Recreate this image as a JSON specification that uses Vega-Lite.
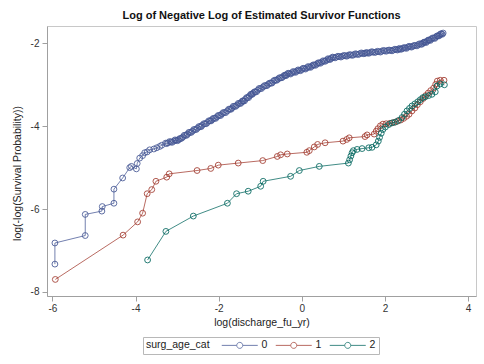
{
  "$schema": "https://vega.github.io/schema/vega-lite/v6.json",
  "autosize": {"type": "none"},
  "width": 429,
  "height": 270,
  "padding": {"left": 47, "top": 26, "right": 8, "bottom": 68},
  "background": "white",
  "title": {"text": "Log of Negative Log of Estimated Survivor Functions", "fontSize": 11, "fontWeight": "bold", "font": "Liberation Sans", "color": "#111", "anchor": "middle", "offset": 5},
  "config": {
    "font": "Liberation Sans",
    "view": {"stroke": "#c8c8c8"},
    "axis": {"grid": false, "domainColor": "#a0a0a0", "tickColor": "#a0a0a0", "tickSize": 5, "labelFontSize": 10, "labelColor": "#333", "titleFontSize": 10.5, "titleFontWeight": "normal", "titleColor": "#222", "labelFont": "Liberation Sans", "titleFont": "Liberation Sans"}
  },
  "data": {"values": [
    {"g":"0","x":-5.94,"y":-7.33},{"g":"0","x":-5.94,"y":-6.82},{"g":"0","x":-5.21,"y":-6.64},{"g":"0","x":-5.21,"y":-6.13},
    {"g":"0","x":-4.81,"y":-6.05},{"g":"0","x":-4.80,"y":-5.94},{"g":"0","x":-4.52,"y":-5.86},{"g":"0","x":-4.52,"y":-5.52},
    {"g":"0","x":-4.31,"y":-5.25},{"g":"0","x":-4.14,"y":-5.00},{"g":"0","x":-4.10,"y":-4.97},{"g":"0","x":-3.98,"y":-5.03},
    {"g":"0","x":-3.96,"y":-4.90},{"g":"0","x":-3.90,"y":-4.77},{"g":"0","x":-3.83,"y":-4.71},{"g":"0","x":-3.78,"y":-4.64},
    {"g":"0","x":-3.72,"y":-4.62},{"g":"0","x":-3.66,"y":-4.57},{"g":"0","x":-3.56,"y":-4.55},{"g":"0","x":-3.49,"y":-4.52},
    {"g":"0","x":-3.42,"y":-4.49},{"g":"0","x":-3.37,"y":-4.46},{"g":"0","x":-3.28,"y":-4.41},{"g":"0","x":-3.22,"y":-4.40},
    {"g":"0","x":-3.15,"y":-4.38},{"g":"0","x":-3.08,"y":-4.36},{"g":"0","x":-3.02,"y":-4.34},{"g":"0","x":-2.97,"y":-4.33},
    {"g":"0","x":-2.92,"y":-4.30},{"g":"0","x":-2.86,"y":-4.26},{"g":"0","x":-2.80,"y":-4.22},{"g":"0","x":-2.75,"y":-4.19},
    {"g":"0","x":-2.69,"y":-4.15},{"g":"0","x":-2.63,"y":-4.12},{"g":"0","x":-2.57,"y":-4.08},{"g":"0","x":-2.51,"y":-4.05},
    {"g":"0","x":-2.45,"y":-4.01},{"g":"0","x":-2.40,"y":-3.98},{"g":"0","x":-2.33,"y":-3.94},{"g":"0","x":-2.27,"y":-3.91},
    {"g":"0","x":-2.21,"y":-3.87},{"g":"0","x":-2.16,"y":-3.84},{"g":"0","x":-2.10,"y":-3.81},{"g":"0","x":-2.04,"y":-3.77},
    {"g":"0","x":-1.98,"y":-3.74},{"g":"0","x":-1.92,"y":-3.70},{"g":"0","x":-1.86,"y":-3.67},{"g":"0","x":-1.79,"y":-3.63},
    {"g":"0","x":-1.73,"y":-3.59},{"g":"0","x":-1.68,"y":-3.56},{"g":"0","x":-1.62,"y":-3.52},{"g":"0","x":-1.56,"y":-3.49},
    {"g":"0","x":-1.50,"y":-3.45},{"g":"0","x":-1.45,"y":-3.42},{"g":"0","x":-1.41,"y":-3.39},{"g":"0","x":-1.36,"y":-3.35},
    {"g":"0","x":-1.31,"y":-3.31},{"g":"0","x":-1.26,"y":-3.27},{"g":"0","x":-1.21,"y":-3.23},{"g":"0","x":-1.17,"y":-3.20},
    {"g":"0","x":-1.12,"y":-3.17},{"g":"0","x":-1.06,"y":-3.13},{"g":"0","x":-1.00,"y":-3.09},{"g":"0","x":-0.93,"y":-3.05},
    {"g":"0","x":-0.87,"y":-3.02},{"g":"0","x":-0.81,"y":-2.99},{"g":"0","x":-0.75,"y":-2.96},{"g":"0","x":-0.69,"y":-2.92},
    {"g":"0","x":-0.63,"y":-2.89},{"g":"0","x":-0.57,"y":-2.86},{"g":"0","x":-0.51,"y":-2.83},{"g":"0","x":-0.45,"y":-2.80},
    {"g":"0","x":-0.40,"y":-2.77},{"g":"0","x":-0.36,"y":-2.75},{"g":"0","x":-0.30,"y":-2.73},{"g":"0","x":-0.24,"y":-2.71},
    {"g":"0","x":-0.18,"y":-2.69},{"g":"0","x":-0.12,"y":-2.67},{"g":"0","x":-0.06,"y":-2.65},{"g":"0","x":0.00,"y":-2.63},
    {"g":"0","x":0.06,"y":-2.61},{"g":"0","x":0.12,"y":-2.59},{"g":"0","x":0.18,"y":-2.57},{"g":"0","x":0.24,"y":-2.55},
    {"g":"0","x":0.30,"y":-2.52},{"g":"0","x":0.36,"y":-2.50},{"g":"0","x":0.42,"y":-2.47},{"g":"0","x":0.48,"y":-2.45},
    {"g":"0","x":0.54,"y":-2.43},{"g":"0","x":0.60,"y":-2.40},{"g":"0","x":0.66,"y":-2.38},{"g":"0","x":0.71,"y":-2.36},
    {"g":"0","x":0.76,"y":-2.34},{"g":"0","x":0.83,"y":-2.33},{"g":"0","x":0.90,"y":-2.32},{"g":"0","x":0.97,"y":-2.31},
    {"g":"0","x":1.04,"y":-2.30},{"g":"0","x":1.11,"y":-2.29},{"g":"0","x":1.18,"y":-2.28},{"g":"0","x":1.25,"y":-2.27},
    {"g":"0","x":1.32,"y":-2.26},{"g":"0","x":1.39,"y":-2.25},{"g":"0","x":1.46,"y":-2.24},{"g":"0","x":1.52,"y":-2.24},
    {"g":"0","x":1.57,"y":-2.23},{"g":"0","x":1.64,"y":-2.22},{"g":"0","x":1.71,"y":-2.21},{"g":"0","x":1.78,"y":-2.21},
    {"g":"0","x":1.85,"y":-2.20},{"g":"0","x":1.92,"y":-2.19},{"g":"0","x":1.99,"y":-2.18},{"g":"0","x":2.06,"y":-2.17},
    {"g":"0","x":2.13,"y":-2.17},{"g":"0","x":2.20,"y":-2.16},{"g":"0","x":2.27,"y":-2.15},{"g":"0","x":2.33,"y":-2.14},
    {"g":"0","x":2.37,"y":-2.14},{"g":"0","x":2.43,"y":-2.12},{"g":"0","x":2.49,"y":-2.11},{"g":"0","x":2.55,"y":-2.09},
    {"g":"0","x":2.61,"y":-2.08},{"g":"0","x":2.67,"y":-2.07},{"g":"0","x":2.73,"y":-2.05},{"g":"0","x":2.80,"y":-2.03},
    {"g":"0","x":2.86,"y":-2.02},{"g":"0","x":2.91,"y":-1.99},{"g":"0","x":2.96,"y":-1.97},{"g":"0","x":3.01,"y":-1.95},
    {"g":"0","x":3.06,"y":-1.92},{"g":"0","x":3.11,"y":-1.90},{"g":"0","x":3.17,"y":-1.87},{"g":"0","x":3.22,"y":-1.85},
    {"g":"0","x":3.27,"y":-1.82},{"g":"0","x":3.32,"y":-1.79},{"g":"0","x":3.36,"y":-1.77},{"g":"0","x":3.40,"y":-1.75},
    {"g":"0","x":-3.25,"y":-4.42},{"g":"0","x":-3.18,"y":-4.37},{"g":"0","x":-3.12,"y":-4.39},{"g":"0","x":-3.05,"y":-4.33},
    {"g":"0","x":-2.99,"y":-4.35},{"g":"0","x":-2.94,"y":-4.30},{"g":"0","x":-2.89,"y":-4.29},{"g":"0","x":-2.83,"y":-4.22},
    {"g":"0","x":-2.77,"y":-4.22},{"g":"0","x":-2.72,"y":-4.15},{"g":"0","x":-2.66,"y":-4.15},{"g":"0","x":-2.60,"y":-4.08},
    {"g":"0","x":-2.54,"y":-4.08},{"g":"0","x":-2.48,"y":-4.01},{"g":"0","x":-2.42,"y":-4.01},{"g":"0","x":-2.36,"y":-3.94},
    {"g":"0","x":-2.30,"y":-3.94},{"g":"0","x":-2.24,"y":-3.87},{"g":"0","x":-2.18,"y":-3.87},{"g":"0","x":-2.13,"y":-3.81},
    {"g":"0","x":-2.07,"y":-3.81},{"g":"0","x":-2.01,"y":-3.74},{"g":"0","x":-1.95,"y":-3.74},{"g":"0","x":-1.89,"y":-3.67},
    {"g":"0","x":-1.83,"y":-3.67},{"g":"0","x":-1.76,"y":-3.59},{"g":"0","x":-1.70,"y":-3.59},{"g":"0","x":-1.65,"y":-3.52},
    {"g":"0","x":-1.59,"y":-3.52},{"g":"0","x":-1.53,"y":-3.45},{"g":"0","x":-1.47,"y":-3.45},{"g":"0","x":-1.43,"y":-3.39},
    {"g":"0","x":-1.38,"y":-3.39},{"g":"0","x":-1.33,"y":-3.31},{"g":"0","x":-1.28,"y":-3.31},{"g":"0","x":-1.23,"y":-3.23},
    {"g":"0","x":-1.19,"y":-3.23},{"g":"0","x":-1.14,"y":-3.17},{"g":"0","x":-1.09,"y":-3.17},{"g":"0","x":-1.03,"y":-3.09},
    {"g":"0","x":-0.97,"y":-3.09},{"g":"0","x":-0.90,"y":-3.02},{"g":"0","x":-0.84,"y":-3.02},{"g":"0","x":-0.78,"y":-2.96},
    {"g":"0","x":-0.72,"y":-2.96},{"g":"0","x":-0.66,"y":-2.89},{"g":"0","x":-0.60,"y":-2.89},{"g":"0","x":-0.54,"y":-2.83},
    {"g":"0","x":-0.48,"y":-2.83},{"g":"0","x":-0.42,"y":-2.77},{"g":"0","x":-0.38,"y":-2.78},{"g":"0","x":-0.33,"y":-2.72},
    {"g":"0","x":-0.27,"y":-2.74},{"g":"0","x":-0.21,"y":-2.68},{"g":"0","x":-0.15,"y":-2.70},{"g":"0","x":-0.09,"y":-2.64},
    {"g":"0","x":-0.03,"y":-2.66},{"g":"0","x":0.03,"y":-2.60},{"g":"0","x":0.09,"y":-2.62},{"g":"0","x":0.15,"y":-2.56},
    {"g":"0","x":0.21,"y":-2.58},{"g":"0","x":0.27,"y":-2.52},{"g":"0","x":0.33,"y":-2.53},{"g":"0","x":0.39,"y":-2.47},
    {"g":"0","x":0.45,"y":-2.48},{"g":"0","x":0.51,"y":-2.42},{"g":"0","x":0.57,"y":-2.43},{"g":"0","x":0.63,"y":-2.37},
    {"g":"0","x":0.68,"y":-2.39},{"g":"0","x":0.74,"y":-2.33},{"g":"0","x":0.80,"y":-2.35},{"g":"0","x":0.87,"y":-2.31},
    {"g":"0","x":0.94,"y":-2.33},{"g":"0","x":1.01,"y":-2.29},{"g":"0","x":1.08,"y":-2.31},{"g":"0","x":1.15,"y":-2.27},
    {"g":"0","x":1.22,"y":-2.29},{"g":"0","x":1.29,"y":-2.25},{"g":"0","x":1.36,"y":-2.27},{"g":"0","x":1.43,"y":-2.23},
    {"g":"0","x":1.49,"y":-2.25},{"g":"0","x":1.55,"y":-2.22},{"g":"0","x":1.61,"y":-2.24},{"g":"0","x":1.68,"y":-2.20},
    {"g":"0","x":1.75,"y":-2.22},{"g":"0","x":1.82,"y":-2.19},{"g":"0","x":1.89,"y":-2.21},{"g":"0","x":1.96,"y":-2.17},
    {"g":"0","x":2.03,"y":-2.19},{"g":"0","x":2.10,"y":-2.16},{"g":"0","x":2.17,"y":-2.18},{"g":"0","x":2.24,"y":-2.14},
    {"g":"0","x":2.30,"y":-2.16},{"g":"0","x":2.35,"y":-2.12},{"g":"0","x":2.40,"y":-2.14},{"g":"0","x":2.46,"y":-2.10},
    {"g":"0","x":2.52,"y":-2.12},{"g":"0","x":2.58,"y":-2.07},{"g":"0","x":2.64,"y":-2.09},{"g":"0","x":2.70,"y":-2.05},
    {"g":"0","x":2.77,"y":-2.06},{"g":"0","x":2.83,"y":-2.01},{"g":"0","x":2.89,"y":-2.02},{"g":"0","x":2.94,"y":-1.97},
    {"g":"0","x":2.99,"y":-1.98},{"g":"0","x":3.04,"y":-1.92},{"g":"0","x":3.09,"y":-1.93},{"g":"0","x":3.14,"y":-1.87},
    {"g":"0","x":3.20,"y":-1.88},{"g":"0","x":3.25,"y":-1.82},{"g":"0","x":3.30,"y":-1.82},{"g":"0","x":3.34,"y":-1.77},
    {"g":"0","x":3.38,"y":-1.78},

    {"g":"1","x":-5.93,"y":-7.70},{"g":"1","x":-4.30,"y":-6.63},{"g":"1","x":-3.95,"y":-6.31},{"g":"1","x":-3.83,"y":-6.10},
    {"g":"1","x":-3.72,"y":-5.63},{"g":"1","x":-3.61,"y":-5.53},{"g":"1","x":-3.51,"y":-5.33},{"g":"1","x":-3.25,"y":-5.23},
    {"g":"1","x":-3.19,"y":-5.15},{"g":"1","x":-2.52,"y":-5.07},{"g":"1","x":-2.19,"y":-5.02},{"g":"1","x":-2.01,"y":-4.94},
    {"g":"1","x":-1.53,"y":-4.89},{"g":"1","x":-0.94,"y":-4.83},{"g":"1","x":-0.59,"y":-4.73},{"g":"1","x":-0.51,"y":-4.69},
    {"g":"1","x":-0.35,"y":-4.67},{"g":"1","x":0.12,"y":-4.63},{"g":"1","x":0.18,"y":-4.59},{"g":"1","x":0.30,"y":-4.50},
    {"g":"1","x":0.38,"y":-4.44},{"g":"1","x":0.56,"y":-4.40},{"g":"1","x":0.99,"y":-4.36},{"g":"1","x":1.08,"y":-4.32},
    {"g":"1","x":1.14,"y":-4.28},{"g":"1","x":1.52,"y":-4.25},{"g":"1","x":1.57,"y":-4.21},{"g":"1","x":1.74,"y":-4.19},
    {"g":"1","x":1.79,"y":-4.12},{"g":"1","x":1.83,"y":-4.06},{"g":"1","x":1.89,"y":-3.99},{"g":"1","x":1.95,"y":-3.95},
    {"g":"1","x":2.03,"y":-3.94},{"g":"1","x":2.12,"y":-3.93},{"g":"1","x":2.21,"y":-3.91},{"g":"1","x":2.30,"y":-3.88},
    {"g":"1","x":2.38,"y":-3.85},{"g":"1","x":2.45,"y":-3.81},{"g":"1","x":2.52,"y":-3.76},{"g":"1","x":2.58,"y":-3.71},
    {"g":"1","x":2.65,"y":-3.63},{"g":"1","x":2.72,"y":-3.56},{"g":"1","x":2.78,"y":-3.48},{"g":"1","x":2.85,"y":-3.41},
    {"g":"1","x":2.92,"y":-3.33},{"g":"1","x":2.98,"y":-3.26},{"g":"1","x":3.04,"y":-3.20},{"g":"1","x":3.10,"y":-3.14},
    {"g":"1","x":3.17,"y":-3.08},{"g":"1","x":3.22,"y":-2.99},{"g":"1","x":3.26,"y":-2.91},{"g":"1","x":3.33,"y":-2.89},
    {"g":"1","x":3.42,"y":-2.89},

    {"g":"2","x":-3.71,"y":-7.23},{"g":"2","x":-3.27,"y":-6.54},{"g":"2","x":-2.61,"y":-6.17},{"g":"2","x":-1.79,"y":-5.86},
    {"g":"2","x":-1.57,"y":-5.63},{"g":"2","x":-1.29,"y":-5.57},{"g":"2","x":-0.99,"y":-5.45},{"g":"2","x":-0.93,"y":-5.33},
    {"g":"2","x":-0.27,"y":-5.21},{"g":"2","x":-0.06,"y":-5.07},{"g":"2","x":0.42,"y":-4.97},{"g":"2","x":1.12,"y":-4.89},
    {"g":"2","x":1.15,"y":-4.81},{"g":"2","x":1.18,"y":-4.72},{"g":"2","x":1.21,"y":-4.64},{"g":"2","x":1.24,"y":-4.59},
    {"g":"2","x":1.33,"y":-4.56},{"g":"2","x":1.45,"y":-4.54},{"g":"2","x":1.61,"y":-4.52},{"g":"2","x":1.69,"y":-4.51},
    {"g":"2","x":1.79,"y":-4.45},{"g":"2","x":1.84,"y":-4.36},{"g":"2","x":1.87,"y":-4.27},{"g":"2","x":1.91,"y":-4.17},
    {"g":"2","x":1.95,"y":-4.08},{"g":"2","x":2.01,"y":-4.02},{"g":"2","x":2.09,"y":-3.96},{"g":"2","x":2.17,"y":-3.92},
    {"g":"2","x":2.25,"y":-3.90},{"g":"2","x":2.33,"y":-3.86},{"g":"2","x":2.41,"y":-3.79},{"g":"2","x":2.47,"y":-3.71},
    {"g":"2","x":2.53,"y":-3.63},{"g":"2","x":2.59,"y":-3.57},{"g":"2","x":2.65,"y":-3.51},{"g":"2","x":2.72,"y":-3.46},
    {"g":"2","x":2.79,"y":-3.41},{"g":"2","x":2.85,"y":-3.36},{"g":"2","x":2.91,"y":-3.31},{"g":"2","x":2.97,"y":-3.29},
    {"g":"2","x":3.05,"y":-3.26},{"g":"2","x":3.13,"y":-3.23},{"g":"2","x":3.21,"y":-3.17},{"g":"2","x":3.25,"y":-3.03},
    {"g":"2","x":3.33,"y":-2.98},{"g":"2","x":3.43,"y":-3.00}
  ]},
  "encoding": {
    "x": {"field": "x", "type": "quantitative", "scale": {"domain": [-6.13, 4.19], "nice": false, "zero": false},
      "axis": {"title": "log(discharge_fu_yr)", "values": [-6, -4, -2, 0, 2, 4], "labelExpr": "'' + datum.value", "labelPadding": 2, "titlePadding": 4}},
    "y": {"field": "y", "type": "quantitative", "scale": {"domain": [-8.1, -1.58], "nice": false, "zero": false},
      "axis": {"title": "log(-log(Survival Probability))", "values": [-8, -6, -4, -2], "labelExpr": "'' + datum.value", "labelPadding": 3, "titlePadding": 8, "titleY": 147}},
    "color": {"field": "g", "type": "nominal",
      "scale": {"domain": ["0", "1", "2"], "range": ["#445694", "#A23A2E", "#01665E"]},
      "legend": {"orient": "none", "legendX": 96, "legendY": 311, "direction": "horizontal", "title": "surg_age_cat",
        "titleOrient": "left", "titleFontWeight": "normal", "titleFontSize": 10.5, "titleColor": "#222", "titlePadding": 11,
        "labelFontSize": 10.5, "labelColor": "#222", "strokeColor": "#b8b8b8", "padding": 3,
        "symbolType": "M-1,0L2.33,0M3.67,0L7,0M2.33,0A0.67,0.67,0,1,1,3.67,0A0.67,0.67,0,1,1,2.33,0",
        "symbolSize": 81, "symbolStrokeWidth": 1, "symbolFillColor": "transparent", "labelOffset": 30, "columnPadding": 5}}
  },
  "layer": [
    {"mark": {"type": "line", "strokeWidth": 1, "opacity": 0.75}},
    {"mark": {"type": "point", "filled": false, "shape": "circle", "size": 34, "strokeWidth": 1, "opacity": 0.85}}
  ]
}
